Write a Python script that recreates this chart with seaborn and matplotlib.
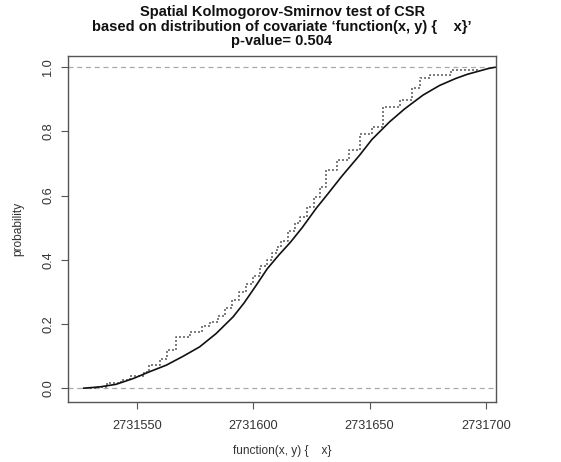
import numpy as np
import pandas as pd
import matplotlib
matplotlib.use("Agg")
import matplotlib.pyplot as plt
import seaborn as sns

BASE = 2731500
# theoretical CDF (solid)
theo_x = [27, 34, 41, 48.4, 55, 62.7, 70, 77, 84, 91.3, 96, 101.4, 106, 111, 116,
          121, 127, 132, 138, 145.7, 151, 158.6, 165, 172.9, 180, 187, 192, 197,
          201, 204]
theo_p = [0.0, 0.004, 0.012, 0.03, 0.05, 0.072, 0.10, 0.129, 0.17, 0.222, 0.265,
          0.322, 0.372, 0.415, 0.455, 0.50, 0.56, 0.605, 0.66, 0.726, 0.775, 0.83,
          0.87, 0.913, 0.943, 0.965, 0.978, 0.988, 0.996, 1.0]
# observed empirical CDF (dotted step)
obs_x = [30, 33, 37, 43, 47, 53, 55, 60, 63, 67, 73, 78, 81.5, 85, 88, 91, 94,
         97, 100, 103, 106, 108, 110, 112, 115, 118, 120, 123, 126, 128.5,
         131.4, 136, 141, 146, 151, 155.7, 162.9, 168, 171.5, 176, 185, 196]
obs_p = [0.0, 0.005, 0.017, 0.025, 0.037, 0.05, 0.072, 0.09, 0.12, 0.16, 0.175,
         0.193, 0.207, 0.225, 0.25, 0.274, 0.30, 0.325, 0.35, 0.38, 0.40, 0.42,
         0.44, 0.46, 0.49, 0.515, 0.534, 0.565, 0.596, 0.627, 0.679, 0.71, 0.741,
         0.793, 0.814, 0.876, 0.897, 0.934, 0.967, 0.977, 0.99, 1.0]
x_ticks = [2731550, 2731600, 2731650, 2731700]
y_ticks = [0.0, 0.2, 0.4, 0.6, 0.8, 1.0]

title = ("Spatial Kolmogorov-Smirnov test of CSR\n"
         "based on distribution of covariate \u2018function(x, y) {    x}\u2019\n"
         "p-value= 0.504")
xlabel = "function(x, y) {    x}"
ylabel = "probability"

sns.set_theme(style="white")
plt.rcParams["font.family"] = ["Liberation Sans", "DejaVu Sans"]

W, H = 561, 462
fig = plt.figure(figsize=(W / 100, H / 100), dpi=100)
L, R, T, B = 68, 496, 56, 402
ax = fig.add_axes([L / W, 1 - B / H, (R - L) / W, (B - T) / H])

theo = pd.DataFrame({"x": np.array(theo_x) + BASE, "p": theo_p})
obs = pd.DataFrame({"x": np.array(obs_x) + BASE, "p": obs_p})

ax.axhline(0, color="#aaaaaa", lw=0.9, ls=(0, (4, 3)), zorder=1)
ax.axhline(1, color="#aaaaaa", lw=0.9, ls=(0, (4, 3)), zorder=1)
sns.lineplot(data=obs, x="x", y="p", ax=ax, color="#666666", lw=1.2,
             linestyle=(0, (1.2, 1.2)), drawstyle="steps-post", zorder=2)
sns.lineplot(data=theo, x="x", y="p", ax=ax, color="#111111", lw=1.2, zorder=3)

ax.set_xlim(2731520.4, 2731704.3)
ax.set_ylim(-0.043, 1.035)
ax.set_xticks(x_ticks)
ax.set_xticklabels([str(v) for v in x_ticks])
ax.set_yticks(y_ticks)
ax.set_yticklabels([f"{v:.1f}" for v in y_ticks], rotation=90, va="center")
ax.tick_params(axis="both", direction="out", length=5, width=0.8, color="#555555",
               labelsize=9.2, labelcolor="#333333", left=True, bottom=True)
ax.tick_params(axis="x", pad=8)
ax.tick_params(axis="y", pad=5)
for s in ax.spines.values():
    s.set_color("#555555")
    s.set_linewidth(1.0)
ax.set_xlabel(xlabel, fontsize=8.6, color="#333333", labelpad=9)
ax.set_ylabel(ylabel, fontsize=8.6, color="#333333", labelpad=13)
fig.text((L + R) / 2 / W, 1 - 5 / H, title, ha="center", va="top",
         fontsize=10.5, fontweight="bold", linespacing=1.05, color="#111111")

fig.savefig("out.png", dpi=100)
